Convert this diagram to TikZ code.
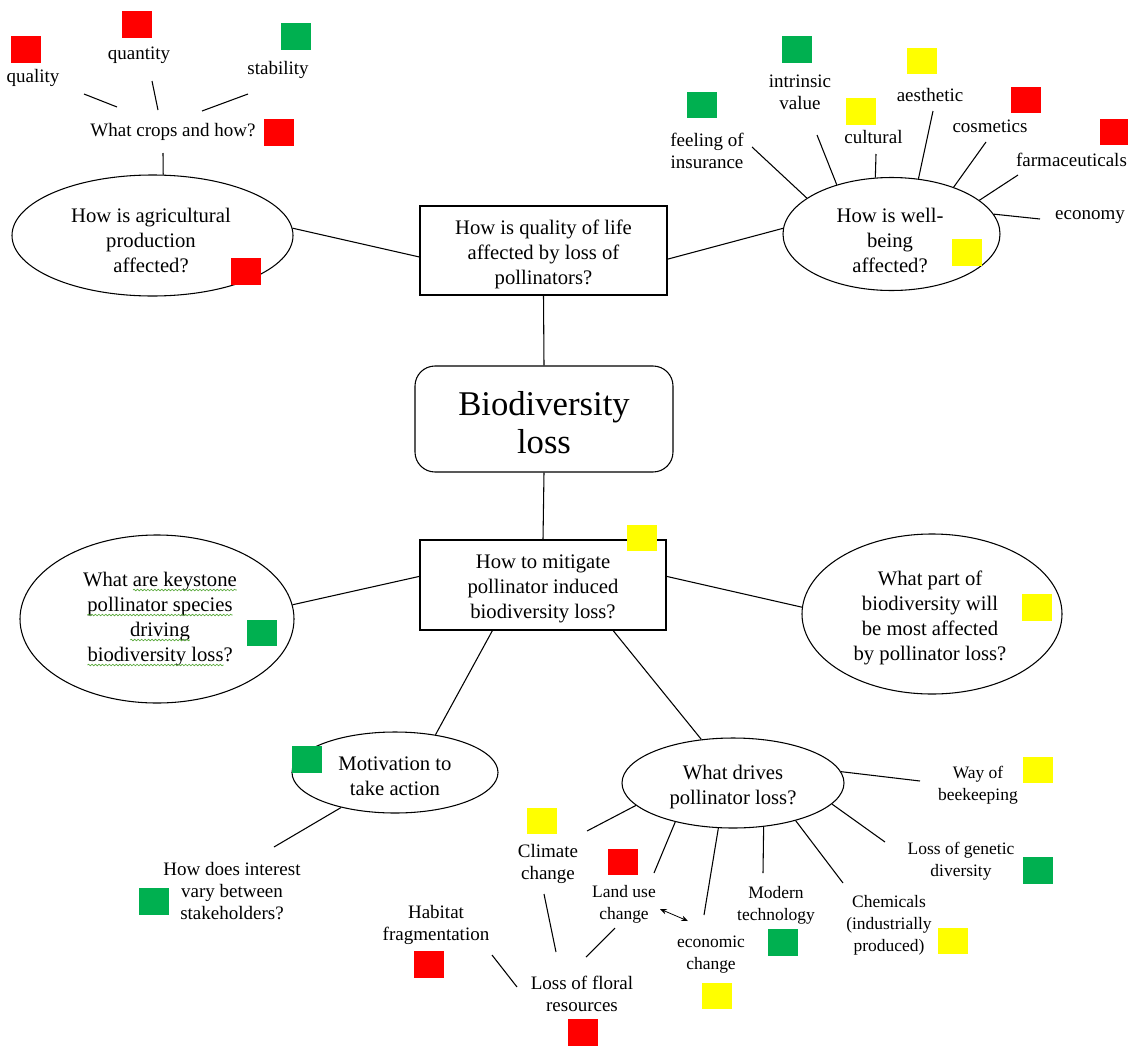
\documentclass[tikz,border=0pt]{standalone}
\usepackage{fontspec}
\setmainfont{Liberation Serif}
\usetikzlibrary{shapes.geometric,arrows.meta,decorations.pathmorphing}
\definecolor{sqred}{RGB}{255,0,0}
\definecolor{sqgreen}{RGB}{0,176,80}
\definecolor{sqyellow}{RGB}{255,255,0}
\definecolor{spell}{RGB}{90,170,60}
\begin{document}
\begin{tikzpicture}[x=0.75pt,y=-0.75pt,
 lbl/.style={font=\fontsize{14.25}{16.5}\selectfont, align=center, inner sep=0pt},
 slbl/.style={font=\fontsize{13.1}{16.5}\selectfont, align=center, inner sep=0pt},
 mtxt/.style={font=\fontsize{15.5}{18.75}\selectfont, align=center, inner sep=0pt},
 ktxt/.style={font=\fontsize{15.5}{18.75}\selectfont, inner sep=0pt, outer sep=0pt},
 ell/.style={draw, ellipse, line width=0.8pt, inner sep=0pt},
 qbox/.style={draw, rectangle, line width=0.8pt, inner sep=0pt},
 sq/.style={minimum width=22.5pt, minimum height=20pt, inner sep=0pt},
 rsq/.style={sq, fill=sqred}, gsq/.style={sq, fill=sqgreen}, ysq/.style={sq, fill=sqyellow},
 conn/.style={line width=0.8pt},
 wavy/.style={spell, line width=0.5pt, decorate, decoration={snake, amplitude=0.6pt, segment length=2.6pt}}
]
\fill[white] (0,0) rectangle (1128,1046);
\useasboundingbox (0,0) rectangle (1128,1046);

% central nodes
\node[qbox, minimum width=185.25pt, minimum height=66.75pt] (qol) at (543.5,250.5) {};
\node[mtxt] (qolt) at (543.5,254.5) {How is quality of life\\affected by loss of\\pollinators?};
\node[qbox, rounded corners=15pt, minimum width=193.5pt, minimum height=79.5pt] (bio) at (544,419) {};
\node[mtxt, font=\fontsize{26}{29}\selectfont] (biot) at (544,422.5) {Biodiversity\\loss};
\node[qbox, minimum width=184.5pt, minimum height=67.5pt] (mit) at (543,585) {};
\node[mtxt] (mitt) at (543,589) {How to mitigate\\pollinator induced\\biodiversity loss?};

% ellipses
\node[ell, minimum width=210.75pt, minimum height=90.75pt] (agri) at (152.5,235.5) {};
\node[mtxt] (agrit) at (151,240) {How is agricultural\\production\\affected?};
\node[ell, minimum width=162.75pt, minimum height=84.75pt] (wb) at (891.5,234) {};
\node[mtxt] (wbt) at (890,240.5) {How is well-\\being\\affected?};
\node[ell, minimum width=205.5pt, minimum height=126pt] (key) at (157,619) {};
\node[ktxt, anchor=base west] (k1a) at (83,586) {What};
\node[ktxt, anchor=base west] (k1b) at ([xshift=3.9pt]k1a.base east) {are keystone};
\node[ktxt, anchor=base] (k2) at (160,611) {pollinator species};
\node[ktxt, anchor=base] (k3) at (160,636) {driving};
\node[ktxt, anchor=base west] (k4a) at (87.5,661) {biodiversity loss};
\node[ktxt, anchor=base west] (k4b) at (k4a.base east) {?};
\draw[wavy] ([yshift=-3pt]k1b.base west) -- ([yshift=-3pt]k1b.base east);
\draw[wavy] ([yshift=-3pt]k2.base west) -- ([yshift=-3pt]k2.base east);
\draw[wavy] ([yshift=-3pt]k3.base west) -- ([yshift=-3pt]k3.base east);
\draw[wavy] ([yshift=-3pt]k4a.base west) -- ([yshift=-3pt]k4a.base east);
\node[ell, minimum width=195pt, minimum height=120pt] (part) at (932,614) {};
\node[mtxt] (partt) at (930,618) {What part of\\biodiversity will\\be most affected\\by pollinator loss?};
\node[ell, minimum width=154.5pt, minimum height=60.75pt] (mot) at (395,772.5) {};
\node[mtxt] (mott) at (395,776.5) {Motivation to\\take action};
\node[ell, minimum width=166.5pt, minimum height=67.5pt] (drv) at (733,783) {};
\node[mtxt] (drvt) at (733,787) {What drives\\pollinator loss?};

% central connectors
\draw[conn] (qol.south) -- (bio.north);
\draw[conn] (bio.south) -- (mit.north);
\draw[conn] (agri.3) -- (qol.183);
\draw[conn] (qol.-4) -- (wb.177);
\draw[conn] (key.6) -- (mit.176);
\draw[conn] (mit.4) -- (part.177);
\draw[conn] (mit.222) -- (mot.43);
\draw[conn] (mit.-33) -- (drv.126);

% top-left
\node[lbl] (quality) at (33,78) {quality};
\node[lbl] (quantity) at (139,55) {quantity};
\node[lbl] (stability) at (278,70) {stability};
\node[lbl] (crops) at (173,132) {What crops and how?};
\node[rsq] (sqquality) at (26,49.5) {};
\node[rsq] (sqquantity) at (136.5,24.5) {};
\node[gsq] (sqstability) at (296,36.5) {};
\node[rsq] (sqcrops) at (278.5,132.5) {};
\node[rsq] (sqagri) at (246,271.5) {};
\coordinate (qa) at (84,94); \coordinate (qb) at (117,107);
\coordinate (na) at (152,81); \coordinate (nb) at (158,110);
\coordinate (sa) at (248,94); \coordinate (sb) at (202,111);
\coordinate (ca) at (163,153);
\draw[conn] (qa) -- (qb);
\draw[conn] (na) -- (nb);
\draw[conn] (sa) -- (sb);
\draw[conn] (ca) -- (agri.80);

% top-right
\node[lbl] (feel) at (707,151) {feeling of\\insurance};
\node[lbl] (intr) at (800,92.5) {intrinsic\\value};
\node[lbl] (cult) at (873.5,137) {cultural};
\node[lbl] (aest) at (930,95) {aesthetic};
\node[lbl] (cosm) at (990,126) {cosmetics};
\node[lbl] (farm) at (1071.5,160) {farmaceuticals};
\node[lbl] (econ) at (1090,217) {economy};
\node[gsq] (sqfeel) at (702,105) {};
\node[gsq] (sqintr) at (796.5,49.5) {};
\node[ysq] (sqcult) at (861,111.5) {};
\node[ysq] (sqaest) at (921.5,61) {};
\node[rsq] (sqcosm) at (1025.5,100) {};
\node[rsq] (sqfarm) at (1115,132) {};
\node[ysq] (sqwb) at (966.5,252.5) {};
\coordinate (fa) at (752,147);
\coordinate (ia) at (817,135);
\coordinate (cua) at (876,154);
\coordinate (aea) at (933,111);
\coordinate (coa) at (986,142);
\coordinate (faa) at (1018,175);
\coordinate (eca) at (1040,219);
\draw[conn] (fa) -- (wb.157);
\draw[conn] (ia) -- (wb.138);
\draw[conn] (cua) -- (wb.106);
\draw[conn] (aea) -- (wb.64);
\draw[conn] (coa) -- (wb.37);
\draw[conn] (faa) -- (wb.21);
\draw[conn] (eca) -- (wb.11);

% middle squares
\node[ysq] (sqmit) at (642,538) {};
\node[gsq] (sqkey) at (262,633) {};
\node[ysq] (sqpart) at (1036.5,607.5) {};

% motivation
\node[gsq] (sqmot) at (307,759.5) {};
\coordinate (mota) at (274,847);
\draw[conn] (mot.213) -- (mota);
\node[lbl] (inter) at (232,891.5) {How does interest\\vary between\\stakeholders?};
\node[gsq] (sqinter) at (154,901.5) {};

% drivers
\coordinate (dcl) at (587,831);
\coordinate (dla) at (654,873);
\coordinate (dec) at (704,915);
\coordinate (dmo) at (763,873);
\coordinate (dch) at (843,883);
\coordinate (dge) at (885,842);
\coordinate (dbe) at (920,781);
\draw[conn] (drv.193) -- (dcl);
\draw[conn] (drv.214) -- (dla);
\draw[conn] (drv.252) -- (dec);
\draw[conn] (drv.305) -- (dmo);
\draw[conn] (drv.329) -- (dch);
\draw[conn] (drv.348) -- (dge);
\draw[conn] (drv.6) -- (dbe);

\node[slbl] (beek) at (978,785) {Way of\\beekeeping};
\node[ysq] (sqbeek) at (1038,770) {};
\node[slbl] (gene) at (961,861) {Loss of genetic\\diversity};
\node[gsq] (sqgene) at (1038,870.5) {};
\node[slbl] (chem) at (889,925.5) {Chemicals\\(industrially\\produced)};
\node[ysq] (sqchem) at (953,941) {};
\node[slbl] (mode) at (776,905) {Modern\\technology};
\node[gsq] (sqmode) at (783,942.5) {};
\node[slbl] (ecch) at (711,955) {economic\\change};
\node[ysq] (sqecch) at (717,996) {};
\node[slbl] (land) at (624,904.5) {Land use\\change};
\node[rsq] (sqland) at (623,862) {};
\node[lbl] (clim) at (548,864) {Climate\\change};
\node[ysq] (sqclim) at (541.5,821) {};
\node[lbl] (habi) at (436,925) {Habitat\\fragmentation};
\node[rsq] (sqhabi) at (429,964.5) {};
\node[lbl] (flor) at (582,994) {Loss of floral\\resources};
\node[rsq] (sqflor) at (583,1032.5) {};

\coordinate (cla) at (544,894); \coordinate (clb) at (556,952);
\coordinate (laa) at (615,928); \coordinate (lab) at (586,957);
\coordinate (haa) at (492,955); \coordinate (hab) at (517,987);
\coordinate (arra) at (660,909); \coordinate (arrb) at (688,921);
\draw[conn] (cla) -- (clb);
\draw[conn] (laa) -- (lab);
\draw[conn] (haa) -- (hab);
\draw[line width=0.6pt, {Stealth[length=5pt,width=4pt]}-{Stealth[length=5pt,width=4pt]}] (arra) -- (arrb);
\end{tikzpicture}
\end{document}
